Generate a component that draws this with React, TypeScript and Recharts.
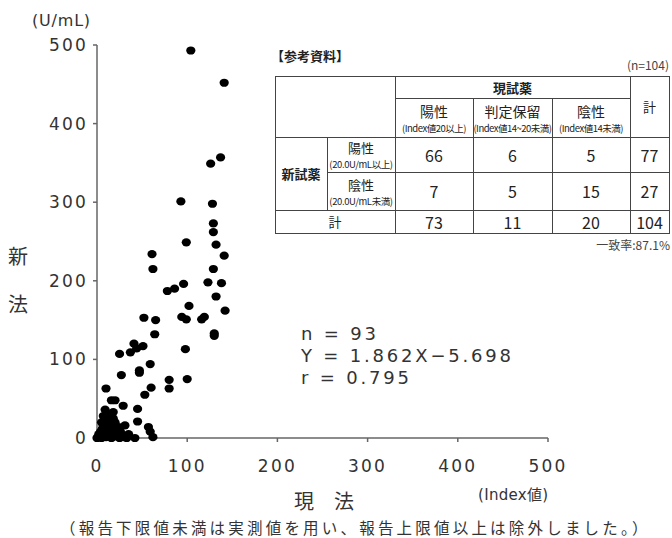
import { Scatter, ScatterChart, XAxis, YAxis } from "recharts"

// 現法 (Index値) と 新法 (U/mL) の測定値
const currentMethod = [
  104, 141, 137, 126, 93, 128, 129, 129, 99, 132, 61, 141, 62, 129, 96, 123, 138, 86, 78, 132,
  102, 142, 52, 65, 94, 99, 116, 119, 64, 130, 130, 41, 51, 44, 37, 25, 98, 59, 27, 47,
  47, 80, 100, 60, 80, 10, 53, 16, 20, 29, 9, 18, 45, 9, 18, 31, 45, 57, 59, 62,
  42, 0, 3, 5, 8, 10, 12, 14, 16, 18, 20, 22, 25, 27, 6, 10, 14, 4, 2, 30,
  7, 12, 24, 15, 33, 20, 12, 1, 19, 26, 11, 35, 5,
]
const newMethod = [
  493, 452, 357, 349, 301, 298, 273, 262, 249, 246, 234, 232, 215, 215, 196, 198, 197, 190, 187, 180,
  168, 162, 153, 150, 154, 151, 151, 154, 132, 133, 130, 120, 117, 114, 109, 107, 113, 94, 80, 86,
  83, 74, 75, 64, 63, 63, 55, 48, 48, 41, 36, 33, 37, 25, 25, 16, 21, 14, 8, 1,
  0, 0, 2, 0, 4, 1, 8, 3, 0, 10, 2, 6, 0, 4, 12, 18, 15, 8, 5, 1,
  28, 22, 14, 6, 0, 20, 30, 1, 3, 8, 11, 5, 20,
]
const axisTicks = [0, 100, 200, 300, 400, 500]

const statLines = ["n = 93", "Y = 1.862X\u22125.698", "r = 0.795"]

// 参考資料の表
const colHeads = ["陽性", "判定保留", "陰性"]
const colSubs = ["(Index値20以上)", "(Index値14~20未満)", "(Index値14未満)"]
const rowHeads = ["陽性", "陰性"]
const rowSubs = ["(20.0U/mL以上)", "(20.0U/mL未満)"]
const positiveRow = [66, 6, 5, 77]
const negativeRow = [7, 5, 15, 27]
const totalRow = [73, 11, 20, 104]

const points = currentMethod.map((x, i) => ({ x, y: newMethod[i] }))

const font = '"Noto Sans CJK JP", "Noto Sans", sans-serif'
const latin = '"DejaVu Sans", "Noto Sans CJK JP", sans-serif'
const ink = "#333"

const Dot = (props: any) => <ellipse cx={props.cx} cy={props.cy} rx={4.6} ry={4.1} fill="#000" />

const colX = [275, 327, 395, 473, 552, 630, 669]
const rowY = [76, 98, 137, 172, 210, 233]

function Cell({ x0, x1, y0, y1, children, style }: any) {
  return (
    <div
      style={{
        position: "absolute",
        left: x0,
        top: y0,
        width: x1 - x0,
        height: y1 - y0,
        display: "flex",
        flexDirection: "column",
        alignItems: "center",
        justifyContent: "center",
        lineHeight: "normal",
        whiteSpace: "nowrap",
        ...style,
      }}
    >
      {children}
    </div>
  )
}

function RefTable() {
  const line = "1px solid #444"
  const hLines = [
    [colX[0], colX[6], rowY[0]],
    [colX[2], colX[5], rowY[1]],
    [colX[2], colX[5], rowY[2]],
    [colX[0], colX[2], rowY[2]],
    [colX[5], colX[6], rowY[2]],
    [colX[1], colX[6], rowY[3]],
    [colX[0], colX[6], rowY[4]],
    [colX[0], colX[6], rowY[5]],
  ]
  const vLines = [
    [colX[0], rowY[0], rowY[5]],
    [colX[1], rowY[2], rowY[4]],
    [colX[2], rowY[0], rowY[5]],
    [colX[3], rowY[1], rowY[5]],
    [colX[4], rowY[1], rowY[5]],
    [colX[5], rowY[0], rowY[5]],
    [colX[6], rowY[0], rowY[5]],
  ]
  const dataRows = [positiveRow, negativeRow]
  return (
    <div style={{ position: "absolute", left: 0, top: 0, fontFamily: font, color: "#222" }}>
      <div style={{ position: "absolute", left: 271, top: 46, fontSize: 13, fontWeight: 700, whiteSpace: "nowrap" }}>
        【参考資料】
      </div>
      <div style={{ position: "absolute", left: 600, width: 69, top: 56, fontSize: 12, textAlign: "right", color: "#444" }}>
        (n=104)
      </div>
      {hLines.map(([a, b, y], i) => (
        <div key={"h" + i} style={{ position: "absolute", left: a, top: y, width: b - a + 1, borderTop: line }} />
      ))}
      {vLines.map(([x, a, b], i) => (
        <div key={"v" + i} style={{ position: "absolute", left: x, top: a, height: b - a, borderLeft: line }} />
      ))}
      <Cell x0={colX[2]} x1={colX[5]} y0={rowY[0]} y1={rowY[1]} style={{ fontSize: 13, fontWeight: 700 }}>
        現試薬
      </Cell>
      <Cell x0={colX[5]} x1={colX[6]} y0={rowY[0]} y1={rowY[2]} style={{ fontSize: 13 }}>
        計
      </Cell>
      {colHeads.map((h, i) => (
        <Cell key={h} x0={colX[2 + i]} x1={colX[3 + i]} y0={rowY[1]} y1={rowY[2]}>
          <span style={{ fontSize: 14 }}>{h}</span>
          <span style={{ fontSize: 9.5, letterSpacing: -0.5 }}>{colSubs[i]}</span>
        </Cell>
      ))}
      <Cell x0={colX[0]} x1={colX[1]} y0={rowY[2]} y1={rowY[4]} style={{ fontSize: 13, fontWeight: 700 }}>
        新試薬
      </Cell>
      {rowHeads.map((h, r) => (
        <Cell key={"r" + r} x0={colX[1]} x1={colX[2]} y0={rowY[2 + r]} y1={rowY[3 + r]}>
          <span style={{ fontSize: 13 }}>{h}</span>
          <span style={{ fontSize: 9.5, letterSpacing: -0.4 }}>{rowSubs[r]}</span>
        </Cell>
      ))}
      {dataRows.map((row, r) =>
        row.map((v, c) => (
          <Cell key={r + "-" + c} x0={colX[2 + c]} x1={colX[3 + c]} y0={rowY[2 + r]} y1={rowY[3 + r]} style={{ fontSize: 16 }}>
            {v}
          </Cell>
        )),
      )}
      <Cell x0={colX[0]} x1={colX[2]} y0={rowY[4]} y1={rowY[5]} style={{ fontSize: 13 }}>
        計
      </Cell>
      {totalRow.map((v, c) => (
        <Cell key={"t" + c} x0={colX[2 + c]} x1={colX[3 + c]} y0={rowY[4]} y1={rowY[5]} style={{ fontSize: 16 }}>
          {v}
        </Cell>
      ))}
      <div style={{ position: "absolute", left: 560, width: 110, top: 236, fontSize: 12, textAlign: "right", color: "#444" }}>
        一致率:87.1%
      </div>
    </div>
  )
}

export default function App() {
  const tickStyle = { fontSize: 17, fill: ink, fontFamily: latin, letterSpacing: 2.2 }
  return (
    <div style={{ position: "relative", width: 672, height: 538, background: "#fff", overflow: "hidden" }}>
      <style>{"body{margin:0}"}</style>
      <ScatterChart width={672} height={538} margin={{ top: 45, right: 124, bottom: 70, left: 37 }}>
        <XAxis
          type="number"
          dataKey="x"
          domain={[0, 500]}
          ticks={axisTicks}
          height={30}
          stroke="#666"
          strokeWidth={1.5}
          tickSize={4}
          tickMargin={18}
          tick={tickStyle}
        />
        <YAxis
          type="number"
          dataKey="y"
          domain={[0, 500]}
          ticks={axisTicks}
          width={60}
          stroke="#666"
          strokeWidth={1.5}
          tickSize={4}
          tickMargin={5}
          tick={tickStyle}
        />
        <Scatter data={points} shape={Dot} isAnimationActive={false} />
      </ScatterChart>

      <div style={{ position: "absolute", left: 32, top: 11, fontSize: 16, fontFamily: latin, color: ink, letterSpacing: 0.8, lineHeight: "20px" }}>
        (U/mL)
      </div>
      <div style={{ position: "absolute", left: 8, top: 232, fontSize: 20, fontFamily: font, color: ink, lineHeight: "48px" }}>
        新<br />法
      </div>
      <div style={{ position: "absolute", left: 478, top: 485, fontSize: 15, fontFamily: latin, color: ink, letterSpacing: 0.3, lineHeight: "20px" }}>
        (Index値)
      </div>
      <div style={{ position: "absolute", left: 294, top: 490, fontSize: 20, fontFamily: font, color: ink, lineHeight: "22px" }}>
        現　法
      </div>
      <div
        style={{
          position: "absolute",
          left: 60,
          top: 519,
          fontSize: 15.5,
          fontFamily: font,
          color: ink,
          letterSpacing: 3.2,
          lineHeight: "17px",
          whiteSpace: "nowrap",
        }}
      >
        （報告下限値未満は実測値を用い、報告上限値以上は除外しました。）
      </div>
      {statLines.map((s, i) => (
        <div
          key={s}
          style={{
            position: "absolute",
            left: 301,
            top: 323 + i * 22,
            fontSize: 18,
            fontFamily: latin,
            color: ink,
            letterSpacing: 2.8,
            lineHeight: "21px",
            whiteSpace: "pre",
          }}
        >
          {s}
        </div>
      ))}
      <RefTable />
    </div>
  )
}
